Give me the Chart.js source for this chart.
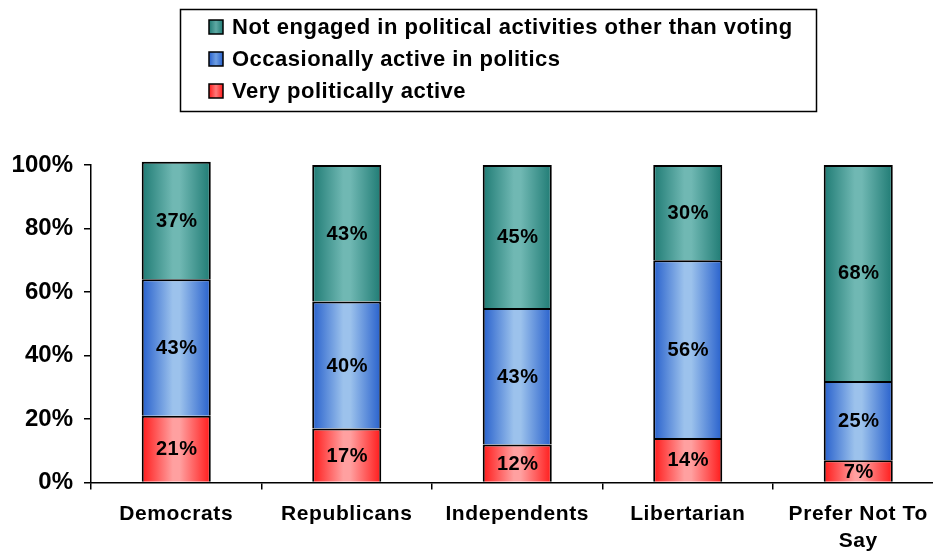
<!DOCTYPE html>
<html>
<head>
<meta charset="utf-8">
<title>Political activity by party</title>
<script src="https://cdn.jsdelivr.net/npm/chart.js@4.4.1/dist/chart.umd.min.js"></script>
<style>
  html, body { margin: 0; padding: 0; background: #fff; overflow: hidden; }
  #wrap { width: 946px; height: 556px; }
</style>
</head>
<body>
<div id="wrap"><canvas id="chart" width="946" height="556"></canvas></div>
<script>
// chart data
const categories = ['Democrats', 'Republicans', 'Independents', 'Libertarian', ['Prefer Not To', 'Say']];
const veryActive = [21, 17, 12, 14, 7];
const occasionallyActive = [43, 40, 43, 56, 25];
const notEngaged = [37, 43, 45, 30, 68];
const yTickStep = 20;
const yMax = 100;

const FONT = '"Liberation Sans", Arial, Helvetica, sans-serif';
const BAR_PCT = 0.405;

// horizontal "cylinder" gradient for each bar segment
function barFill(dark, light) {
  return (ctx) => {
    const chart = ctx.chart;
    if (!chart.chartArea || ctx.type !== 'data') return light;
    const xScale = chart.scales.x;
    const x = xScale.getPixelForValue(ctx.dataIndex);
    const w = xScale.width / categories.length * BAR_PCT;
    const g = chart.ctx.createLinearGradient(x - w / 2, 0, x + w / 2, 0);
    g.addColorStop(0, dark);
    g.addColorStop(0.45, light);
    g.addColorStop(0.55, light);
    g.addColorStop(1, dark);
    return g;
  };
}

// value labels centred in each segment
const valueLabels = {
  id: 'valueLabels',
  afterDatasetsDraw(chart) {
    const c = chart.ctx;
    c.save();
    c.font = 'bold 20px ' + FONT;
    c.letterSpacing = '0.5px';
    c.fillStyle = '#000';
    c.textAlign = 'center';
    c.textBaseline = 'middle';
    chart.data.datasets.forEach((ds, i) => {
      chart.getDatasetMeta(i).data.forEach((bar, j) => {
        const p = bar.getCenterPoint();
        c.fillText(ds.data[j] + '%', p.x + 0.5, p.y + 1);
      });
    });
    c.restore();
    // x tick labels (z > 0 layer) are drawn after this with a little tracking
    c.letterSpacing = '0.6px';
  },
  afterDraw(chart) {
    chart.ctx.letterSpacing = '0px';
  }
};

// boxed vertical legend, top item = top of stack
const boxLegend = {
  id: 'boxLegend',
  afterDraw(chart) {
    const c = chart.ctx;
    c.save();
    c.letterSpacing = '0px';
    c.lineWidth = 1.5;
    c.strokeStyle = '#000';
    c.strokeRect(180.5, 9.5, 636, 102);

    c.font = 'bold 22px ' + FONT;
    c.letterSpacing = '0.5px';
    c.textAlign = 'left';
    c.textBaseline = 'middle';
    const items = chart.data.datasets.slice().reverse();
    items.forEach((ds, k) => {
      const cy = 27 + k * 32;
      const g = c.createLinearGradient(209, 0, 223, 0);
      g.addColorStop(0, ds.edgeColor);
      g.addColorStop(0.5, ds.midColor);
      g.addColorStop(1, ds.edgeColor);
      c.fillStyle = g;
      c.fillRect(209, cy - 7, 14, 14);
      c.strokeRect(209, cy - 7, 14, 14);
      c.fillStyle = '#000';
      c.fillText(ds.label, 232, cy + 1);
    });
    c.restore();
  }
};

function segment(label, data, dark, light, mid) {
  return {
    label: label,
    data: data,
    backgroundColor: barFill(dark, light),
    edgeColor: dark,
    midColor: mid,
    borderColor: '#000',
    borderWidth: 2,
    borderSkipped: 'bottom', // the segment below supplies the dividing line
    barPercentage: BAR_PCT,
    categoryPercentage: 1,
    clip: false
  };
}

new Chart(document.getElementById('chart'), {
  type: 'bar',
  data: {
    labels: categories,
    datasets: [
      segment('Very politically active', veryActive, '#ff1a1a', '#ffa0a0', '#ff7a7a'),
      segment('Occasionally active in politics', occasionallyActive, '#2760cc', '#9cc2ec', '#6f9fe2'),
      segment('Not engaged in political activities other than voting', notEngaged, '#1f7b74', '#70b8b3', '#5fa9a4')
    ]
  },
  options: {
    responsive: false,
    animation: false,
    events: [],
    layout: { padding: { top: 165, left: 0, right: 2.5, bottom: 0 } },
    plugins: {
      legend: { display: false },
      tooltip: { enabled: false }
    },
    scales: {
      x: {
        stacked: true,
        offset: true,
        afterFit(scale) { scale.height = 73.5; },
        border: { display: true, color: '#000', width: 1.5 },
        grid: {
          offset: true,
          drawOnChartArea: false,
          drawTicks: true,
          tickLength: 7,
          color: '#000',
          lineWidth: 1.5
        },
        ticks: {
          z: 1,
          color: '#000',
          padding: 12,
          maxRotation: 0,
          autoSkip: false,
          font: { family: FONT, size: 21, weight: 'bold', lineHeight: 1.25 }
        }
      },
      y: {
        stacked: true,
        min: 0,
        max: yMax,
        afterFit(scale) { scale.width = 91; },
        border: { display: true, color: '#000', width: 1.5 },
        grid: {
          drawOnChartArea: false,
          drawTicks: true,
          tickLength: 7,
          color: '#000',
          lineWidth: 1.5
        },
        ticks: {
          stepSize: yTickStep,
          color: '#000',
          padding: 11,
          font: { family: FONT, size: 24, weight: 'bold' },
          callback: (v) => v + '%'
        }
      }
    }
  },
  plugins: [valueLabels, boxLegend]
});
</script>
</body>
</html>
